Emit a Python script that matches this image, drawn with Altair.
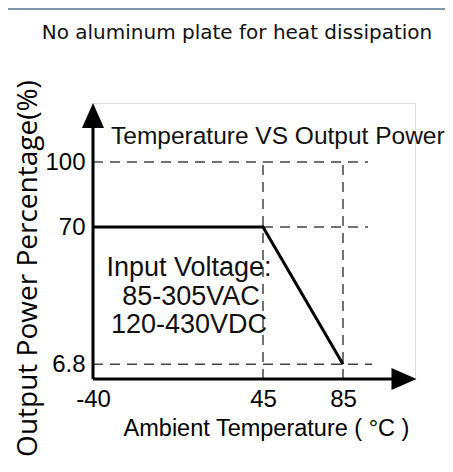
import altair as alt
import pandas as pd

# ---- data ----
curve_temp = [-40, 45, 85]
curve_power = [70, 70, 6.8]

x_tick_values = [-40, 45, 85]
y_tick_values = [6.8, 70, 100]

# dashed guide lines
h_guide_y = [100, 70, 6.8]
h_guide_end = [97.5, 97.5, 99.5]
v_guide_x = [45, 85]
v_guide_top = [100, 100]

note_lines = ["Input Voltage:", "85-305VAC", "120-430VDC"]
note_y = [51.2, 37.8, 24.9]
note_x = [8, 9, 8]

header_text = ["Temperature VS Output Power"]
header_x = [-31]
header_y = [111.5]

# axis arrows (axis line ends, arrow centres)
axis_x0, axis_y0 = -40, 0
x_axis_end, y_axis_end = 110, 115.7
x_arrow_c, y_arrow_c = 115.5, 121.4

X_DOMAIN = [-40, 121]
Y_DOMAIN = [0, 127.2]

REG = "Liberation Sans, Arial, sans-serif"
GEO = "Open Sans, DejaVu Sans, sans-serif"

xs = alt.Scale(domain=X_DOMAIN, nice=False, zero=False)
ys = alt.Scale(domain=Y_DOMAIN, nice=False, zero=False)

curve_df = pd.DataFrame({"x": curve_temp, "y": curve_power})

guides = pd.DataFrame(
    {"x": [-40] * len(h_guide_y) + v_guide_x,
     "x2": h_guide_end + v_guide_x,
     "y": h_guide_y + [0] * len(v_guide_x),
     "y2": h_guide_y + v_guide_top}
)

axes_df = pd.DataFrame(
    {"x": [axis_x0, axis_x0], "x2": [axis_x0, x_axis_end],
     "y": [axis_y0, axis_y0], "y2": [y_axis_end, axis_y0]}
)

notes_df = pd.DataFrame({"x": note_x, "y": note_y, "label": note_lines})
header_df = pd.DataFrame({"x": header_x, "y": header_y, "label": header_text})

x_axis = alt.Axis(
    values=x_tick_values, domain=False, ticks=False, grid=False,
    labelExpr="'' + datum.value", labelFont=REG, labelFontSize=24,
    labelColor="black", labelPadding=8, labelFlush=False,
    title="Ambient Temperature ( °C )", titleFont=REG, titleFontSize=23.5,
    titleFontWeight="normal", titleColor="black",
    titleX=173, titleY=49, titleAlign="center", titleBaseline="middle",
)
y_axis = alt.Axis(
    values=y_tick_values, domain=False, ticks=False, grid=False,
    labelExpr="'' + datum.value", labelFont=REG, labelFontSize=24,
    labelColor="black", labelPadding=8, labelFlush=False,
    title="Output Power Percentage(%)", titleFont=GEO, titleFontSize=28,
    titleFontWeight="normal", titleColor="black", titleAngle=-90,
    titleX=-65, titleY=165, titleAlign="center", titleBaseline="middle",
)


def X(field="x"):
    return alt.X(f"{field}:Q", scale=xs, axis=x_axis)


def Y(field="y"):
    return alt.Y(f"{field}:Q", scale=ys, axis=y_axis)


guide_layer = alt.Chart(guides).mark_rule(
    color="#444444", strokeWidth=1.5, strokeDash=[10, 7]
).encode(x=X(), x2="x2:Q", y=Y(), y2="y2:Q")

axis_layer = alt.Chart(axes_df).mark_rule(color="black", strokeWidth=3).encode(
    x=X(), x2="x2:Q", y=Y(), y2="y2:Q"
)

x_arrow = alt.Chart(pd.DataFrame({"x": [x_arrow_c], "y": [axis_y0]})).mark_point(
    shape="M1,0L-1,-0.88L-1,0.88Z", size=625, filled=True, color="black", opacity=1
).encode(x=X(), y=Y())

y_arrow = alt.Chart(pd.DataFrame({"x": [axis_x0], "y": [y_arrow_c]})).mark_point(
    shape="M0,-1L0.88,1L-0.88,1Z", size=625, filled=True, color="black", opacity=1
).encode(x=X(), y=Y())

curve = alt.Chart(curve_df).mark_line(
    color="black", strokeWidth=3, strokeJoin="miter"
).encode(x=X(), y=Y())

notes = alt.Chart(notes_df).mark_text(
    font=REG, fontSize=27, color="#111111", align="center", baseline="middle"
).encode(x=X(), y=Y(), text="label:N")

header = alt.Chart(header_df).mark_text(
    font=REG, fontSize=24.5, color="#111111", align="left", baseline="middle"
).encode(x=X(), y=Y(), text="label:N")

top_border = alt.Chart(pd.DataFrame({"k": [0]})).mark_rule(
    color="#7f96ad", strokeWidth=2
).encode(x=alt.value(-85), x2=alt.value(352), y=alt.value(-94))

chart = alt.layer(
    guide_layer, axis_layer, curve, x_arrow, y_arrow, notes, header, top_border
).properties(
    width=322, height=276,
    padding={"left": 85, "top": 95, "right": 30, "bottom": 85},
    autosize=alt.AutoSizeParams(type="none"),
    title=alt.TitleParams(
        "No aluminum plate for heat dissipation", font="DejaVu Sans", fontSize=20,
        fontWeight="normal", color="#111111", anchor="middle", frame="group",
        baseline="alphabetic", offset=-51, dx=-17,
    ),
).configure_view(strokeWidth=0, stroke="transparent").configure(background="white")

chart.save("out.html", embed_options={"renderer": "svg", "actions": False})
